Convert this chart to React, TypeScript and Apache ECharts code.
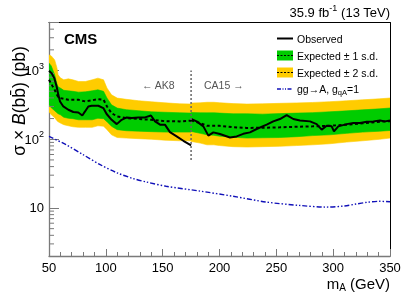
import React, { useEffect, useRef } from 'react';
import * as echarts from 'echarts';

// ---------- data ----------
// AK8 region expected bands (pb)
const massAK8 = [50, 52, 55, 57, 58, 60, 63, 67, 71, 76, 82, 88, 93, 98, 101, 105, 110, 118, 129, 140, 152, 165, 175];
const plus2AK8 = [1688, 1633, 1428, 1093, 865, 782, 732, 757, 732, 692, 692, 732, 775, 732, 555, 443, 397, 381, 363, 351, 339, 328, 325];
const plus1AK8 = [1279, 1168, 865, 640, 579, 555, 515, 507, 498, 485, 490, 507, 524, 498, 397, 317, 284, 269, 260, 251, 247, 243, 240];
const expAK8 = [732, 640, 524, 443, 415, 397, 388, 375, 375, 375, 355, 369, 384, 375, 300, 240, 215, 204, 197, 192, 183, 182, 186];
const minus1AK8 = [317, 287, 260, 243, 235, 227, 209, 202, 199, 192, 192, 192, 202, 199, 180, 154, 138, 133, 131, 129, 127, 127, 127];
const minus2AK8 = [251, 227, 206, 186, 180, 172, 163, 157, 152, 149, 149, 149, 157, 155, 138, 116, 106, 104, 102, 100, 97, 95, 95];

// CA15 region expected bands (pb)
const massCA15 = [175, 183, 189, 195, 200, 212, 224, 238, 253, 268, 282, 297, 312, 326, 341, 350];
const plus2CA15 = [336, 339, 345, 345, 340, 330, 325, 328, 333, 338, 343, 352, 363, 375, 388, 398];
const plus1CA15 = [245, 243, 242, 243, 240, 235, 235, 232, 236, 240, 244, 251, 259, 268, 277, 285];
const expCA15 = [188, 172, 157, 157, 157, 150, 146, 147, 149, 152, 154, 157, 163, 171, 180, 183];
const minus1CA15 = [130, 122, 116, 114, 111, 107, 104, 105, 106, 109, 113, 116, 122, 127, 131, 134];
const minus2CA15 = [93, 88, 83, 83, 81, 78, 77, 78, 79, 81, 83, 86, 91, 95, 100, 104];

// Observed limits (pb)
const massObsAK8 = [50, 52.3, 54.7, 56.7, 58.2, 59.7, 62.6, 67, 71.4, 75.8, 79.3, 81.7, 84.6, 87.5, 93.4, 97.8, 100.7, 105.1, 109.6, 113.9, 118.4, 122.8, 128.6, 134.5, 139.7, 143.3, 147.7, 152, 156.4, 162.3, 168.2, 175];
const obsAK8 = [989, 916, 775, 585, 443, 355, 300, 269, 249, 245, 222, 254, 300, 307, 307, 284, 233, 192, 166, 192, 208, 204, 208, 208, 222, 182, 163, 163, 127, 110, 95, 81.5];
const massObsCA15 = [175, 179.9, 185.8, 190.2, 194.6, 200.4, 209.2, 215.1, 220.9, 226.8, 232.7, 241.5, 247.3, 253.2, 259.1, 264.9, 270.8, 279.6, 285.5, 289.9, 294.3, 298.7, 300.7, 304.5, 311.9, 317.7, 323.6, 329.5, 335.3, 341.2, 345.6, 350];
const obsCA15 = [197, 182, 154, 113, 126, 119, 106, 110, 120, 126, 141, 163, 182, 197, 225, 197, 188, 182, 166, 138, 157, 154, 130, 154, 166, 172, 172, 180, 182, 188, 182, 188];

// gg -> A, gqA = 1 theory (pb)
const massTheory = [50, 65, 80, 95, 110, 124, 136, 153, 183, 212, 241, 270, 294, 310, 320, 330, 341, 350];
const xsTheory = [110, 83.4, 59.7, 42.7, 32.4, 26.8, 23.8, 20.7, 17.6, 14.8, 12.2, 10.9, 10.3, 10.7, 11.4, 12.1, 12.5, 12.3];

// AK8 / CA15 divider
const dividerMass = 175;
const dividerRange = [50, 1000];

// axis
const xTicks = { min: 50, max: 350, step: 50 };
const yRange = { min: 2, max: 5000 };
const yMinorTicks = [3, 4, 5, 6, 7, 8, 9, 20, 30, 40, 50, 60, 70, 80, 90, 200, 300, 400, 500, 600, 700, 800, 900, 2000, 3000, 4000];

const FONT = '"Liberation Sans", Arial, Helvetica, sans-serif';
const AX = '#7a7a7a';
const GREEN = '#00cc00';
const YELLOW = '#ffcc00';
const BLUE = '#1010b8';

function bandSeries(xs: number[], hi: number[], lo: number[], color: string) {
  return {
    type: 'custom',
    coordinateSystem: 'cartesian2d',
    clip: true,
    silent: true,
    data: [[xs[0], hi[0]]],
    renderItem: (_params: any, api: any) => {
      const pts: number[][] = [];
      for (let i = 0; i < xs.length; i++) pts.push(api.coord([xs[i], hi[i]]));
      for (let i = xs.length - 1; i >= 0; i--) pts.push(api.coord([xs[i], lo[i]]));
      return { type: 'polygon', shape: { points: pts }, style: { fill: color, stroke: color, lineWidth: 0.6 } };
    },
  };
}

function lineSeries(xs: number[], ys: number[], lineStyle: any, extra: any = {}) {
  return {
    type: 'line',
    data: xs.map((x, i) => [x, ys[i]]),
    showSymbol: false,
    symbol: 'none',
    silent: true,
    lineStyle,
    clip: true,
    ...extra,
  };
}

export default function App() {
  const ref = useRef<HTMLDivElement>(null);
  useEffect(() => {
    document.body.style.margin = '0';
    const chart = echarts.init(ref.current!, null, { renderer: 'svg' });

    const yLabel = (v: number) => {
      const p = Math.log10(v);
      const r = Math.round(p);
      if (Math.abs(p - r) > 1e-6) return '';
      if (r === 1) return '10';
      if (r >= 2) return '10{s|' + r + '}';
      return '';
    };

    const option: any = {
      animation: false,
      grid: { left: 49, right: 17, top: 22.5, bottom: 36, containLabel: false, outerBoundsMode: 'none' },
      xAxis: [
        {
          type: 'value', min: xTicks.min, max: xTicks.max, interval: xTicks.step, position: 'bottom',
          axisLine: { show: true, lineStyle: { color: AX, width: 1.3 } },
          axisTick: { show: true, inside: true, length: 7, lineStyle: { color: AX, width: 1 } },
          minorTick: { show: true, splitNumber: 5, length: 4, lineStyle: { color: AX, width: 1 } },
          axisLabel: { color: '#000', fontSize: 13, fontFamily: FONT, margin: 5 },
          splitLine: { show: false },
        },
        {
          type: 'value', min: xTicks.min, max: xTicks.max, position: 'top',
          axisLine: { show: true, onZero: false, lineStyle: { color: '#000', width: 1 } },
          axisTick: { show: false }, axisLabel: { show: false }, splitLine: { show: false },
        },
      ],
      yAxis: [
        {
          type: 'log', logBase: 10, min: yRange.min, max: yRange.max, position: 'left',
          axisLine: { show: true, lineStyle: { color: AX, width: 1.3 } },
          axisTick: { show: true, inside: true, length: 10, lineStyle: { color: AX, width: 1 } },
          axisLabel: {
            color: '#000', fontSize: 13, fontFamily: FONT, margin: 5, formatter: yLabel,
            rich: { s: { fontSize: 9, fontFamily: FONT, color: '#000', padding: [0, 0, 10, 0] } },
          },
          splitLine: { show: false },
        },
        {
          type: 'log', logBase: 10, min: yRange.min, max: yRange.max, position: 'right',
          axisLine: { show: true, onZero: false, lineStyle: { color: '#000', width: 1 } },
          axisTick: { show: false }, axisLabel: { show: false }, splitLine: { show: false },
        },
      ],
      series: [
        bandSeries(massAK8, plus2AK8, minus2AK8, YELLOW),
        bandSeries(massCA15, plus2CA15, minus2CA15, YELLOW),
        bandSeries(massAK8, plus1AK8, minus1AK8, GREEN),
        bandSeries(massCA15, plus1CA15, minus1CA15, GREEN),
        lineSeries(massAK8, expAK8, { color: '#000', width: 2, type: [3, 2.5] }),
        lineSeries(massCA15, expCA15, { color: '#000', width: 2, type: [3, 2.5] }),
        lineSeries(massObsAK8, obsAK8, { color: '#000', width: 2 }),
        lineSeries(massObsCA15, obsCA15, { color: '#000', width: 2 }),
        lineSeries(massTheory, xsTheory, { color: BLUE, width: 1.4, type: [5, 2, 1.5, 2, 1.5, 2] }, { smooth: 0.3 }),
        lineSeries([dividerMass, dividerMass], dividerRange, { color: '#666', width: 1.5, type: [2, 2] }),
        {
          type: 'custom', coordinateSystem: 'cartesian2d', clip: false, silent: true,
          data: yMinorTicks.map((v) => [xTicks.min, v]),
          renderItem: (_p: any, api: any) => {
            const pt = api.coord([api.value(0), api.value(1)]);
            return { type: 'line', shape: { x1: pt[0], y1: pt[1], x2: pt[0] + 5, y2: pt[1] }, style: { stroke: AX, lineWidth: 1 } };
          },
        },
      ],
      graphic: [
        { type: 'text', x: 390, y: 12, style: { text: '35.9 fb{sup|-1} (13 TeV)', fill: '#000', font: '13px ' + FONT, align: 'right', verticalAlign: 'middle', rich: { sup: { fontSize: 9, fontFamily: FONT, fill: '#000', padding: [0, 0, 9, 0] } } } },
        { type: 'text', x: 64, y: 38, style: { text: 'CMS', fill: '#000', font: 'bold 15px ' + FONT, align: 'left', verticalAlign: 'middle' } },
        // legend
        { type: 'line', shape: { x1: 277, y1: 38.5, x2: 293, y2: 38.5 }, style: { stroke: '#000', lineWidth: 2 } },
        { type: 'rect', shape: { x: 277, y: 50.5, width: 16, height: 10 }, style: { fill: GREEN } },
        { type: 'line', shape: { x1: 277, y1: 55.5, x2: 293, y2: 55.5 }, style: { stroke: '#000', lineWidth: 1.2, lineDash: [2, 1.5] } },
        { type: 'rect', shape: { x: 277, y: 67.5, width: 16, height: 10 }, style: { fill: YELLOW } },
        { type: 'line', shape: { x1: 277, y1: 72.5, x2: 293, y2: 72.5 }, style: { stroke: '#000', lineWidth: 1.2, lineDash: [2, 1.5] } },
        { type: 'line', shape: { x1: 277, y1: 89, x2: 293, y2: 89 }, style: { stroke: BLUE, lineWidth: 1.4, lineDash: [4, 1.5, 1, 1.5, 1, 1.5] } },
        { type: 'text', x: 297, y: 38.5, style: { text: 'Observed', fill: '#000', font: '10.5px ' + FONT, verticalAlign: 'middle' } },
        { type: 'text', x: 297, y: 55.5, style: { text: 'Expected ± 1 s.d.', fill: '#000', font: '10.5px ' + FONT, verticalAlign: 'middle' } },
        { type: 'text', x: 297, y: 72.5, style: { text: 'Expected ± 2 s.d.', fill: '#000', font: '10.5px ' + FONT, verticalAlign: 'middle' } },
        { type: 'text', x: 297, y: 89, style: { text: 'gg→A, g{sub|qA}=1', fill: '#000', font: '10.5px ' + FONT, verticalAlign: 'middle', rich: { sub: { fontSize: 7.5, fontFamily: FONT, fill: '#000', padding: [7, 0, 0, 0] } } } },
        // region labels
        { type: 'text', x: 142, y: 85, style: { text: '← AK8', fill: '#555', font: '10.5px ' + FONT, verticalAlign: 'middle' } },
        { type: 'text', x: 204, y: 85, style: { text: 'CA15 →', fill: '#555', font: '10.5px ' + FONT, verticalAlign: 'middle' } },
        // axis titles
        { type: 'text', x: 390, y: 283, style: { text: 'm{sub|A} (GeV)', fill: '#000', font: '15px ' + FONT, align: 'right', verticalAlign: 'middle', rich: { sub: { fontSize: 10, fontFamily: FONT, fill: '#000', padding: [8, 0, 0, 0] } } } },
        { type: 'text', x: 19, y: 101, rotation: Math.PI / 2, style: { text: 'σ × {i|B}(bb̄) (pb)', fill: '#000', font: '17.5px ' + FONT, align: 'center', verticalAlign: 'middle', rich: { i: { fontStyle: 'italic', fontSize: 17.5, fontFamily: FONT, fill: '#000' } } } },
      ],
    };
    chart.setOption(option);
    return () => chart.dispose();
  }, []);
  return <div ref={ref} style={{ position: 'fixed', left: 0, top: 0, width: 407, height: 292 }} />;
}
